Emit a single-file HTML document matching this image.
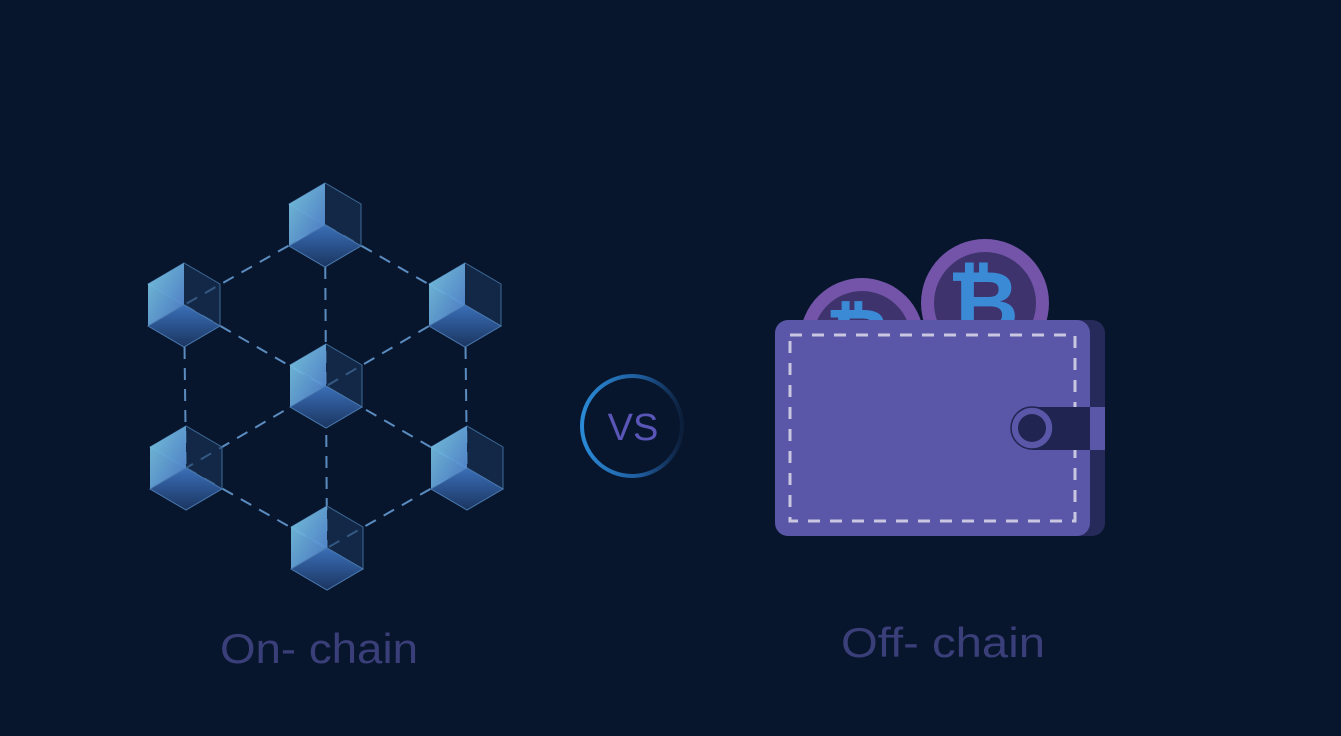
<!DOCTYPE html>
<html><head><meta charset="utf-8"><style>
html,body{margin:0;padding:0;background:#08162d;}
svg{display:block}
</style></head><body>
<svg width="1341" height="736" viewBox="0 0 1341 736" xmlns="http://www.w3.org/2000/svg">
<defs>
<linearGradient id="lf" x1="0" y1="0" x2="1" y2="1">
<stop offset="0" stop-color="#7fd0e8"/><stop offset="1" stop-color="#4f7fd0"/></linearGradient>
<linearGradient id="bf" x1="0" y1="0" x2="0" y2="1">
<stop offset="0" stop-color="#3a6fb8"/><stop offset="1" stop-color="#1b3560"/></linearGradient>
<linearGradient id="vs" x1="0" y1="0" x2="1" y2="0">
<stop offset="0" stop-color="#2a8ad6"/><stop offset="0.6" stop-color="#1e5a9a"/><stop offset="1" stop-color="#0c1e3a"/></linearGradient>
<g id="cube">
<polygon points="-36,-21 0,-42 36,-21 36,21 0,0" fill="#1a3558" fill-opacity="0.6" stroke="#3d6a98" stroke-width="1"/>
<polygon points="-36,-21 0,-42 0,0 -36,21" fill="url(#lf)" fill-opacity="0.9"/>
<polygon points="-36,21 0,0 36,21 0,42" fill="url(#bf)" stroke="#4a7ab0" stroke-width="1"/>
</g>
<clipPath id="cl"><rect x="700" y="150" width="500" height="172"/></clipPath>
</defs>
<g stroke="#5b8cc0" stroke-width="2" stroke-dasharray="12 9" fill="none">
<line x1="325" y1="225" x2="184" y2="305"/>
<line x1="325" y1="225" x2="465" y2="305"/>
<line x1="184" y1="305" x2="186" y2="468"/>
<line x1="465" y1="305" x2="467" y2="468"/>
<line x1="186" y1="468" x2="327" y2="548"/>
<line x1="467" y1="468" x2="327" y2="548"/>
<line x1="325" y1="225" x2="327" y2="548"/>
<line x1="184" y1="305" x2="467" y2="468"/>
<line x1="465" y1="305" x2="186" y2="468"/>
</g>
<use href="#cube" x="325" y="225"/>
<use href="#cube" x="184" y="305"/>
<use href="#cube" x="465" y="305"/>
<use href="#cube" x="326" y="386"/>
<use href="#cube" x="186" y="468"/>
<use href="#cube" x="467" y="468"/>
<use href="#cube" x="327" y="548"/>
<circle cx="632" cy="426" r="50" fill="none" stroke="url(#vs)" stroke-width="4"/>
<text x="633" y="440" text-anchor="middle" font-family="Liberation Sans, sans-serif" font-size="38" fill="#5a56b8">VS</text>
<g clip-path="url(#cl)">
<circle cx="862" cy="340" r="62" fill="#7354a8"/>
<circle cx="862" cy="340" r="49" fill="#3f336e"/>
<text x="858" y="365" text-anchor="middle" font-family="DejaVu Sans, sans-serif" font-weight="bold" font-size="80" fill="#3a8ad6">₿</text>
<circle cx="985" cy="303" r="64" fill="#7354a8"/>
<circle cx="985" cy="303" r="51" fill="#3f336e"/>
<text x="983" y="333" text-anchor="middle" font-family="DejaVu Sans, sans-serif" font-weight="bold" font-size="88" fill="#3a8ad6">₿</text>
</g>
<rect x="790" y="320" width="315" height="216" rx="13" fill="#252a5a"/>
<rect x="775" y="320" width="315" height="216" rx="13" fill="#5a56a8"/>
<rect x="790" y="335" width="285" height="186" fill="none" stroke="#c8c6e0" stroke-width="3" stroke-dasharray="12 10"/>
<rect x="1032" y="407" width="58" height="43" fill="#1f2550"/>
<rect x="1090" y="407" width="15" height="43" fill="#5a56a8"/>
<circle cx="1032" cy="428" r="21" fill="#5a56a8" stroke="#1f2550" stroke-width="1.5"/>
<circle cx="1032" cy="428" r="14" fill="#1f2550"/>
<text x="220" y="663" font-family="Liberation Sans, sans-serif" font-size="42" fill="#3a3f7a" textLength="198" lengthAdjust="spacingAndGlyphs">On- chain</text>
<text x="841" y="657" font-family="Liberation Sans, sans-serif" font-size="42" fill="#3a3f7a" textLength="204" lengthAdjust="spacingAndGlyphs">Off- chain</text>
</svg>
</body></html>
